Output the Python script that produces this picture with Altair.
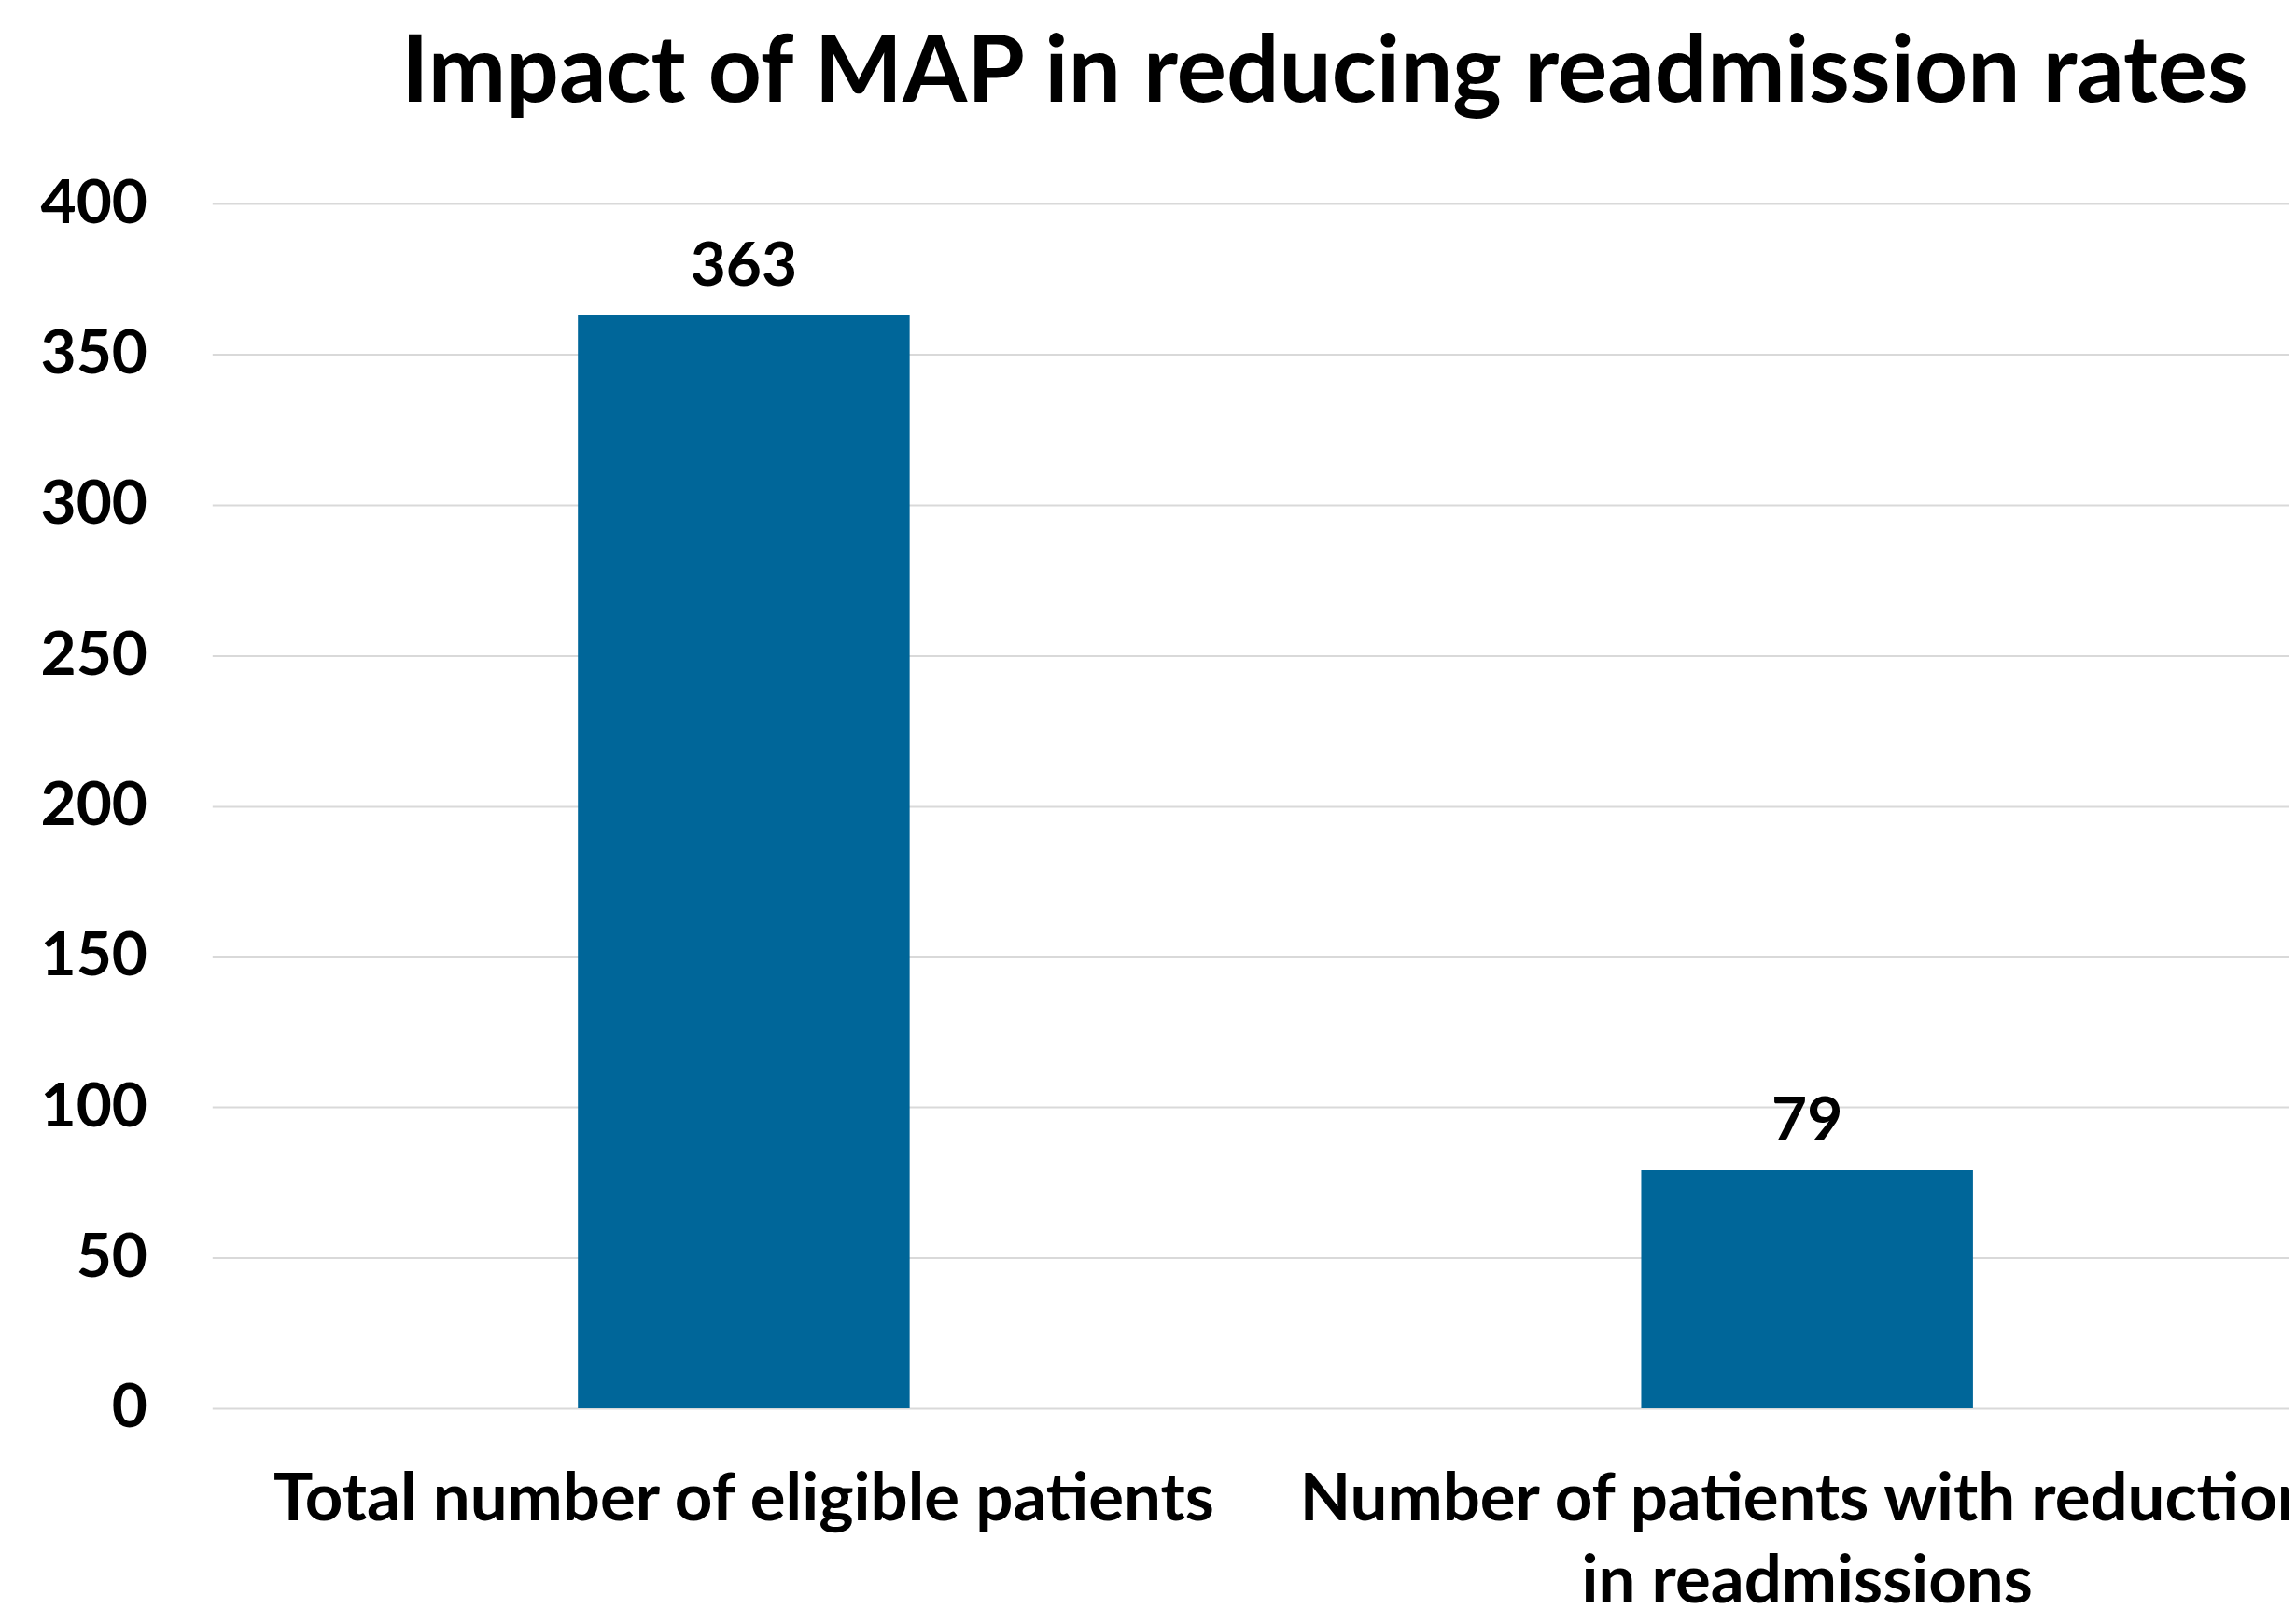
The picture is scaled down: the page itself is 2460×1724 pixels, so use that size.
import altair as alt
import pandas as pd

# ---- data ----
categories = [
    "Total number of eligible patients",
    "Number of patients with reduction in readmissions",
]
values = [363, 79]
y_ticks = [0, 50, 100, 150, 200, 250, 300, 350, 400]
title_text = "Impact of MAP in reducing readmission rates"

df = pd.DataFrame({"category": categories, "value": values})

FONT = "Lato"
BAR_COLOR = "#006699"
W, H = 2232, 1295

label_expr = (
    "datum.label == 'Number of patients with reduction in readmissions' ? "
    "['Number of patients with reduction', 'in readmissions'] : datum.label"
)

x_enc = alt.X(
    "category:N",
    sort=categories,
    title=None,
    scale=alt.Scale(range=[0, 2286], paddingInner=0.688, paddingOuter=0.344),
    axis=alt.Axis(
        labelAngle=0,
        labelFont=FONT,
        labelFontSize=71,
        labelFontWeight="bold",
        labelColor="black",
        labelPadding=64,
        labelLineHeight=88,
        labelLimit=0,
        labelOverlap=False,
        labelExpr=label_expr,
        domain=False,
        ticks=False,
        grid=False,
    ),
)

y_enc = alt.Y(
    "value:Q",
    title=None,
    scale=alt.Scale(domain=[0, 400], nice=False),
    axis=alt.Axis(
        values=y_ticks,
        grid=True,
        gridColor="#d9d9d9",
        gridWidth=2,
        domain=False,
        ticks=False,
        labelFont=FONT,
        labelFontSize=66,
        labelFontWeight="bold",
        labelColor="black",
        labelPadding=70,
    ),
)

base = alt.Chart(df).encode(x=x_enc, y=y_enc)

bars = base.mark_bar(color=BAR_COLOR)
labels = base.mark_text(
    dy=-32,
    baseline="alphabetic",
    font=FONT,
    fontSize=66,
    fontWeight="bold",
    color="black",
).encode(text="value:Q")

chart = (
    alt.layer(bars, labels)
    .properties(
        width=W,
        height=H,
        background="white",
        title=alt.TitleParams(
            text=title_text,
            font=FONT,
            fontSize=100,
            fontWeight="bold",
            color="black",
            anchor="middle",
            dx=80,
            offset=55,
        ),
        autosize=alt.AutoSizeParams(type="none"),
        padding={"left": 220, "top": 208, "right": 0, "bottom": 213},
    )
    .configure_view(stroke=None, strokeWidth=0)
)

chart.save("out.html", embed_options={"renderer": "svg", "actions": False})
